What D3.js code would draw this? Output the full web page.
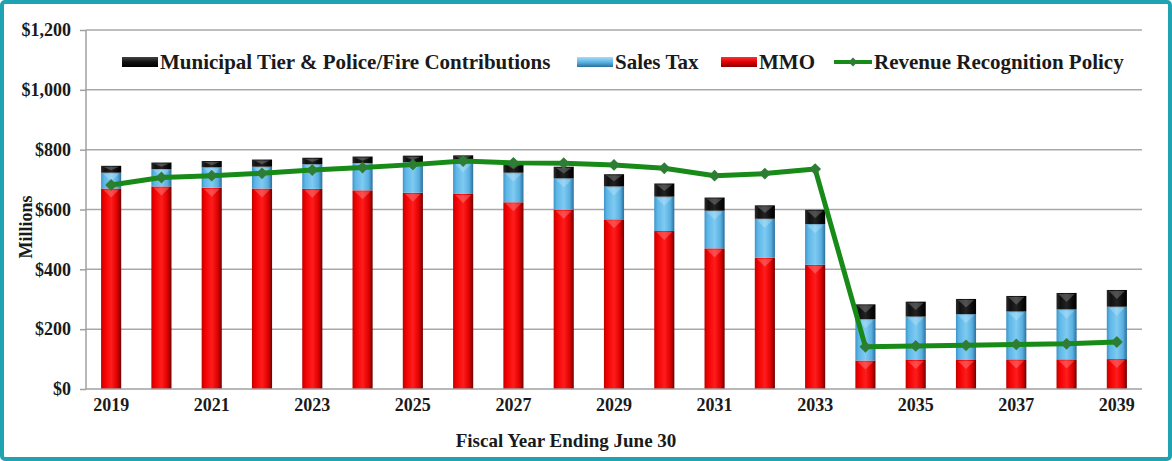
<!DOCTYPE html>
<meta charset="utf-8">

<style>
    body { margin: 0; background: #fff; }
    svg text { font-family: "Liberation Serif", "Times New Roman", serif; font-weight: bold; fill: #1a1a1a; }
    .grid line { stroke: #a8a8a8; stroke-width: 1.5px; }
    .axis path, .axis line { fill: none; stroke: #a0a0a0; stroke-width: 1.5px; }
    .axis text { font-size: 18px; }
</style>

<svg width="1172" height="461"></svg>

<script src="https://cdn.jsdelivr.net/npm/d3@7"></script>
<script>
    // data (millions of dollars)
    var years = [2019, 2020, 2021, 2022, 2023, 2024, 2025, 2026, 2027, 2028, 2029,
                 2030, 2031, 2032, 2033, 2034, 2035, 2036, 2037, 2038, 2039];
    var mmo = [670, 677, 673, 670, 669, 664, 656, 652, 624, 599, 567,
               528, 470, 439, 415, 95, 97, 97, 99, 99, 100];
    var salesTax = [53, 58, 68, 73, 82, 91, 102, 103, 99, 105, 110,
                    115, 126, 130, 136, 138, 145, 153, 160, 167, 175];
    var municipal = [23, 22, 21, 24, 22, 22, 22, 26, 32, 39, 41,
                     44, 44, 45, 48, 50, 50, 51, 52, 55, 56];
    var policy = [682, 707, 713, 721, 732, 740, 750, 762, 756, 755, 749,
                  738, 713, 720, 735, 141, 144, 146, 149, 151, 157];
    var yTicks = [0, 200, 400, 600, 800, 1000, 1200];
    var xTickYears = [2019, 2021, 2023, 2025, 2027, 2029, 2031, 2033, 2035, 2037, 2039];

    (function () {
        var svg = d3.select("svg"),
            left = 86, right = 1142, top = 30, bottom = 389,
            rows = years.map(function (y, i) {
                return {year: y, mmo: mmo[i], sales: salesTax[i], muni: municipal[i]};
            }),
            keys = ["mmo", "sales", "muni"],
            series = d3.stack().keys(keys)(rows),
            x = d3.scaleBand().domain(years).range([left, right]).paddingInner(0.6).paddingOuter(0.3),
            y = d3.scaleLinear().domain([0, 1200]).range([bottom, top]),
            fills = {mmo: "url(#gRed)", sales: "url(#gBlue)", muni: "url(#gBlack)"};

        // frame
        svg.append("rect")
            .attr("x", 2).attr("y", 2).attr("width", 1168).attr("height", 457)
            .attr("rx", 3)
            .attr("fill", "#fff")
            .attr("stroke", "#1fa3b3")
            .attr("stroke-width", 4);

        // gradients for the shaded bars
        var defs = svg.append("defs");
        function grad(id, stops, vertical) {
            var g = defs.append("linearGradient").attr("id", id)
                .attr("x1", 0).attr("y1", 0)
                .attr("x2", vertical ? 0 : 1).attr("y2", vertical ? 1 : 0);
            stops.forEach(function (s) {
                g.append("stop").attr("offset", s[0]).attr("stop-color", s[1]);
            });
        }
        grad("gRed", [[0, "#c00000"], [0.15, "#f00000"], [0.5, "#ff1c1c"], [0.8, "#e00000"], [1, "#6e0000"]]);
        grad("gBlue", [[0, "#3f93c8"], [0.15, "#5cb6e6"], [0.5, "#7fcaf2"], [0.8, "#58b0e0"], [1, "#2c6f9c"]]);
        grad("gBlack", [[0, "#2a2a2a"], [0.2, "#111"], [0.5, "#222"], [0.8, "#0a0a0a"], [1, "#000"]]);
        grad("lRed", [[0, "#ff3030"], [0.5, "#e00000"], [1, "#8a0000"]], true);
        grad("lBlue", [[0, "#a8dcf7"], [0.5, "#5cb6e6"], [1, "#2c6f9c"]], true);
        grad("lBlack", [[0, "#444"], [0.5, "#111"], [1, "#000"]], true);

        // gridlines
        svg.append("g").attr("class", "grid")
            .selectAll("line").data(yTicks.slice(1)).enter().append("line")
            .attr("x1", left).attr("x2", right)
            .attr("y1", function (d) { return y(d); })
            .attr("y2", function (d) { return y(d); });

        // stacked bars
        var layer = svg.append("g").selectAll("g").data(series).enter().append("g")
            .attr("fill", function (d) { return fills[d.key]; });
        layer.selectAll("rect").data(function (d) { return d; }).enter().append("rect")
            .attr("x", function (d) { return x(d.data.year); })
            .attr("y", function (d) { return y(d[1]); })
            .attr("width", x.bandwidth())
            .attr("height", function (d) { return y(d[0]) - y(d[1]); });
        // small bevel chevron at the top of each segment
        layer.selectAll("path").data(function (d) { return d; }).enter().append("path")
            .attr("fill", "#fff")
            .attr("fill-opacity", 0.22)
            .attr("d", function (d) {
                var x0 = x(d.data.year), w = x.bandwidth(), t = y(d[1]),
                    h = Math.min(8, (y(d[0]) - y(d[1])) / 2);
                return "M" + [x0 + 2, t + 1] + "L" + [x0 + w - 2, t + 1] + "L" + [x0 + w / 2, t + 1 + h] + "Z";
            });

        // axes
        var yAxis = d3.axisLeft(y).tickValues(yTicks).tickSize(6).tickPadding(9)
            .tickFormat(function (d) { return "$" + d3.format(",")(d); });
        svg.append("g").attr("class", "axis")
            .attr("transform", "translate(" + [left, 0] + ")")
            .call(yAxis)
            .call(function (g) { g.select(".domain").attr("d", "M0," + top + "V" + bottom); });
        var xAxis = d3.axisBottom(x).tickValues(xTickYears).tickSize(0).tickPadding(9);
        svg.append("g").attr("class", "axis")
            .attr("transform", "translate(" + [0, bottom] + ")")
            .call(xAxis)
            .call(function (g) { g.select(".domain").attr("d", "M" + left + ",0H" + right); });
        svg.selectAll(".axis text").attr("fill", "#1a1a1a");

        // revenue recognition policy line
        var line = d3.line()
            .x(function (d, i) { return x(years[i]) + x.bandwidth() / 2; })
            .y(function (d) { return y(d); });
        svg.append("path")
            .attr("d", line(policy))
            .attr("fill", "none")
            .attr("stroke", "#188a18")
            .attr("stroke-width", 5)
            .attr("stroke-linejoin", "round");
        svg.append("g").selectAll("path").data(policy).enter().append("path")
            .attr("d", d3.symbol().type(d3.symbolSquare).size(70))
            .attr("transform", function (d, i) {
                return "translate(" + [x(years[i]) + x.bandwidth() / 2, y(d)] + ") rotate(45)";
            })
            .attr("fill", "#2e7d34");

        // axis titles
        svg.append("text")
            .attr("transform", "translate(32,227) rotate(-90)")
            .attr("text-anchor", "middle")
            .style("font-size", "18px")
            .text("Millions");
        svg.append("text")
            .attr("x", 566).attr("y", 447)
            .attr("text-anchor", "middle")
            .style("font-size", "19px")
            .text("Fiscal Year Ending June 30");

        // legend
        var legend = [
            {label: "Municipal Tier & Police/Fire Contributions", fill: "url(#lBlack)", x: 122},
            {label: "Sales Tax", fill: "url(#lBlue)", x: 577},
            {label: "MMO", fill: "url(#lRed)", x: 721},
            {label: "Revenue Recognition Policy", line: true, x: 834}
        ];
        var item = svg.append("g").selectAll("g").data(legend).enter().append("g")
            .attr("transform", function (d) { return "translate(" + [d.x, 62] + ")"; });
        item.filter(function (d) { return !d.line; }).append("rect")
            .attr("x", 0).attr("y", -5).attr("width", 36).attr("height", 10)
            .attr("fill", function (d) { return d.fill; });
        var li = item.filter(function (d) { return d.line; });
        li.append("line").attr("x1", 0).attr("x2", 38)
            .attr("stroke", "#188a18").attr("stroke-width", 4);
        li.append("path")
            .attr("d", d3.symbol().type(d3.symbolSquare).size(40))
            .attr("transform", "translate(19,0) rotate(45)")
            .attr("fill", "#2e7d34");
        item.append("text")
            .attr("x", function (d) { return d.line ? 40 : 38; })
            .attr("y", 7)
            .style("font-size", "21px")
            .text(function (d) { return d.label; });
    })();
</script>
